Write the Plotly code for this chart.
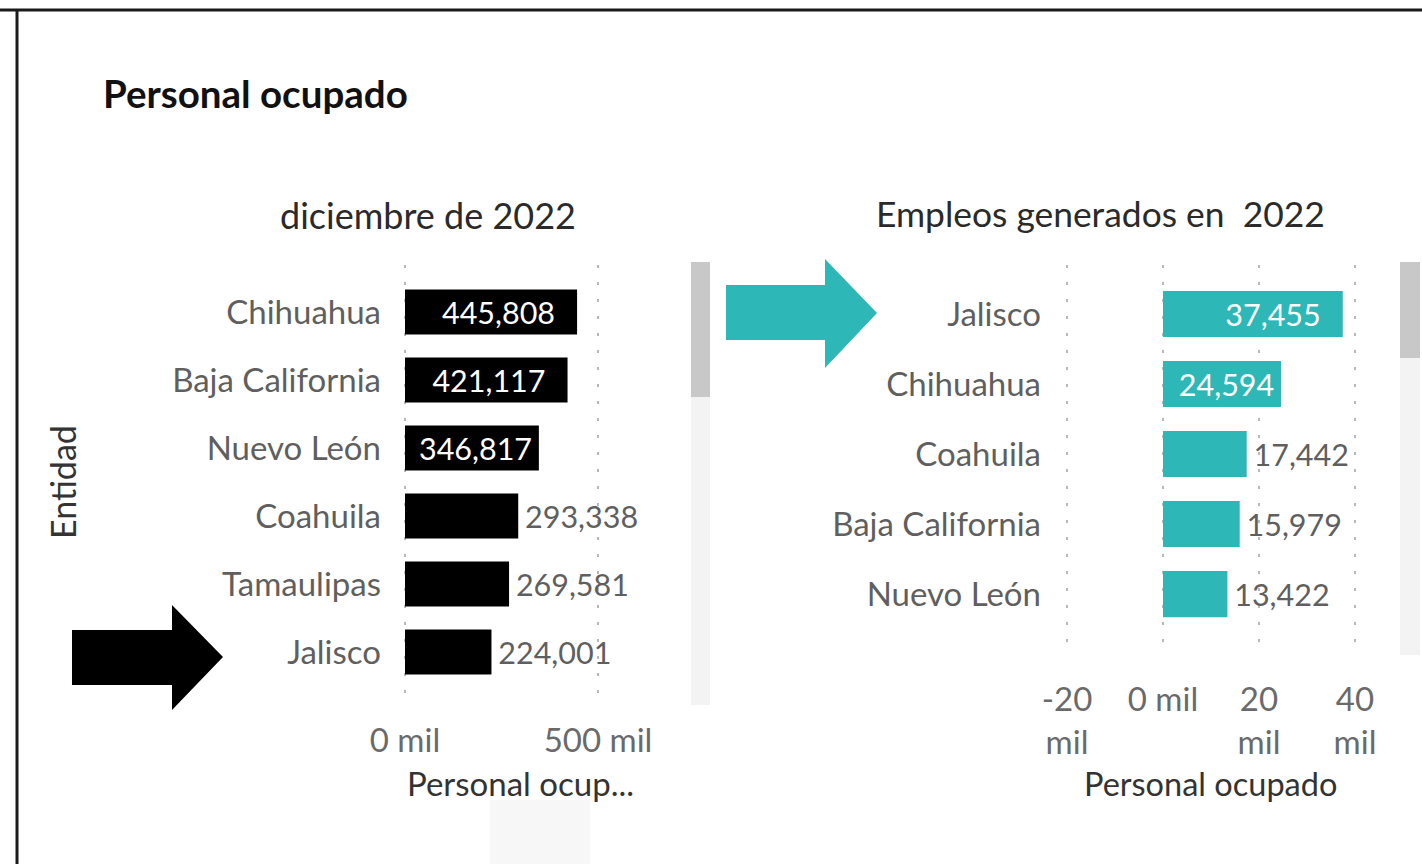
import plotly.graph_objects as go

W, H = 1422, 864

# ---- data ----
left_categories = ["Chihuahua", "Baja California", "Nuevo León", "Coahuila", "Tamaulipas", "Jalisco"]
left_values = [445808, 421117, 346817, 293338, 269581, 224001]
left_tickvals = [0, 500000]
left_ticktext = ["0 mil", "500 mil"]

right_categories = ["Jalisco", "Chihuahua", "Coahuila", "Baja California", "Nuevo León"]
right_values = [37455, 24594, 17442, 15979, 13422]
right_tickvals = [-20000, 0, 20000, 40000]
right_ticktext = ["-20<br>mil", "0 mil", "20<br>mil", "40<br>mil"]

TEAL = "#2DB7B7"
FONT = "Lato"
GREY = "#5f5f5f"
LBL = 30.5


def px(x):
    return x / W


def py(y):
    return 1 - y / H


def fmt(v):
    return f"{v:,}"


def labels(values, px_per_unit):
    """Inside label when it fits in the bar, outside otherwise (Power BI 'auto')."""
    pos, txt = [], []
    for v in values:
        s = fmt(v)
        text_w = (len(s) - 1) * 0.58 * LBL + 0.25 * LBL
        bar_w = v * px_per_unit
        room = bar_w - text_w
        if room > 8:
            pos.append("inside")
            txt.append(s + ("\u2002\u2009" if room > 30 else "\u2009"))
        else:
            pos.append("outside")
            txt.append("\u2009" + s)
    return pos, txt


# pixel layout of the two value axes (ticks 0..500k at 405..598; -20k..40k at 1067..1355)
L_PPU = (598 - 405) / 500000
R_PPU = (1355 - 1067) / 60000
EXT = 6  # extra px on each side so edge gridlines are drawn

left_pos, left_text = labels(left_values, L_PPU)
right_pos, right_text = labels(right_values, R_PPU)

fig = go.Figure()
fig.add_trace(go.Bar(
    x=left_values, y=left_categories, orientation="h",
    marker=dict(color="#000000", line=dict(width=0)),
    width=0.66,
    text=left_text, textposition=left_pos,
    insidetextanchor="end",
    insidetextfont=dict(color="white", size=LBL, family=FONT),
    outsidetextfont=dict(color=GREY, size=LBL, family=FONT),
    cliponaxis=False, xaxis="x", yaxis="y", showlegend=False,
    hoverinfo="skip",
))
fig.add_trace(go.Bar(
    x=right_values, y=right_categories, orientation="h",
    marker=dict(color=TEAL, line=dict(width=0)),
    width=0.66,
    text=right_text, textposition=right_pos,
    insidetextanchor="end",
    insidetextfont=dict(color="white", size=LBL, family=FONT),
    outsidetextfont=dict(color=GREY, size=LBL, family=FONT),
    cliponaxis=False, xaxis="x2", yaxis="y2", showlegend=False,
    hoverinfo="skip",
))

grid = dict(showgrid=True, gridcolor="#b8b8b8", gridwidth=2, griddash="3px,14px",
            zeroline=False, showline=False, ticks="", automargin=False)

fig.update_layout(
    width=W, height=H, margin=dict(l=0, r=0, t=0, b=0, autoexpand=False),
    paper_bgcolor="white", plot_bgcolor="white",
    font=dict(family=FONT, color=GREY, size=30),
    xaxis=dict(domain=[px(405 - EXT), px(598 + EXT)],
               range=[-EXT / L_PPU, 500000 + EXT / L_PPU], anchor="y",
               tickvals=left_tickvals, ticktext=left_ticktext,
               tickfont=dict(size=33, color="#6a6a6a"), ticklabelstandoff=13, **grid),
    yaxis=dict(domain=[py(705), py(265)], range=[5.779, -0.691], anchor="x",
               type="category", showgrid=False, zeroline=False, showline=False, ticks="",
               automargin=False,
               tickfont=dict(size=33, color=GREY), ticklabelstandoff=23 - EXT),
    xaxis2=dict(domain=[px(1067 - EXT), px(1355 + EXT)],
                range=[-20000 - EXT / R_PPU, 40000 + EXT / R_PPU], anchor="y2",
                tickvals=right_tickvals, ticktext=right_ticktext,
                tickfont=dict(size=33, color="#6a6a6a"), ticklabelstandoff=22, **grid),
    yaxis2=dict(domain=[py(655), py(265)], range=[4.871, -0.7], anchor="x2",
                type="category", showgrid=False, zeroline=False, showline=False, ticks="",
                automargin=False,
                tickfont=dict(size=33, color=GREY), ticklabelstandoff=25 - EXT),
)

shapes = []
# frame lines
shapes.append(dict(type="line", xref="paper", yref="paper", x0=0, x1=1, y0=py(10), y1=py(10),
                   line=dict(color="#1a1a1a", width=3)))
shapes.append(dict(type="line", xref="paper", yref="paper", x0=px(17), x1=px(17), y0=py(10), y1=0,
                   line=dict(color="#1a1a1a", width=3)))
# scrollbars
for (x0, x1, y0, y1, c) in [
    (691, 710, 262, 705, "#f3f3f3"), (691, 710, 262, 397, "#c8c8c8"),
    (1400, 1420, 262, 655, "#f3f3f3"), (1400, 1420, 262, 358, "#c8c8c8"),
    (490, 590, 800, 864, "#f7f7f7"),
]:
    shapes.append(dict(type="rect", xref="paper", yref="paper", x0=px(x0), x1=px(x1),
                       y0=py(y1), y1=py(y0), fillcolor=c, line=dict(width=0), layer="below"))


def arrow(x0, xb, xt, ys0, ys1, yh0, yh1, yt):
    pts = [(x0, ys0), (xb, ys0), (xb, yh0), (xt, yt), (xb, yh1), (xb, ys1), (x0, ys1)]
    d = "M " + " L ".join(f"{px(a):.5f},{py(b):.5f}" for a, b in pts) + " Z"
    return d


shapes.append(dict(type="path", xref="paper", yref="paper",
                   path=arrow(72, 172, 223, 630, 685, 605, 710, 657),
                   fillcolor="#000000", line=dict(width=0)))
shapes.append(dict(type="path", xref="paper", yref="paper",
                   path=arrow(726, 825, 877, 285, 340, 259, 368, 313),
                   fillcolor=TEAL, line=dict(width=0)))
fig.update_layout(shapes=shapes)

ann = [
    dict(text="Personal ocupado", x=px(101), y=py(93), xanchor="left", yanchor="middle",
         font=dict(size=38.5, color="#111111", weight="bold")),
    dict(text="diciembre de 2022", x=px(428), y=py(215), xanchor="center", yanchor="middle",
         font=dict(size=36, color="#2a2a2a")),
    dict(text="Empleos generados en  2022", x=px(1100), y=py(213), xanchor="center", yanchor="middle",
         font=dict(size=35.4, color="#2a2a2a")),
    dict(text="Entidad", x=px(62), y=py(482), xanchor="center", yanchor="middle", textangle=-90,
         font=dict(size=34, color="#333333")),
    dict(text="Personal ocup...", x=px(520), y=py(783), xanchor="center", yanchor="middle",
         font=dict(size=33, color="#333333")),
    dict(text="Personal ocupado", x=px(1210), y=py(783), xanchor="center", yanchor="middle",
         font=dict(size=32.5, color="#333333")),
]
for a in ann:
    a.update(xref="paper", yref="paper", showarrow=False)
fig.update_layout(annotations=ann)

fig.write_html("out.html", config={"displayModeBar": False},
               post_script="document.body.style.margin='0';document.body.style.overflow='hidden';")
